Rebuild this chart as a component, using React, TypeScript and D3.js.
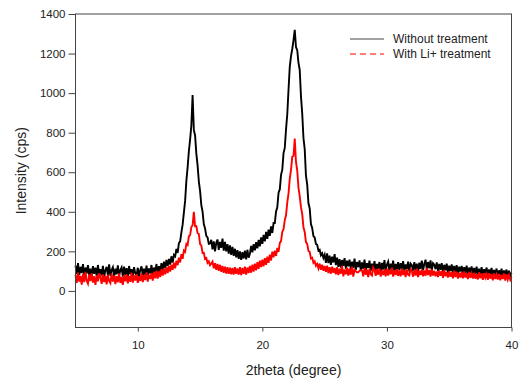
import * as d3 from "d3";
import { useEffect, useRef } from "react";

// 2theta from 5 to 40 in 0.1 degree steps
const startAngle = 5;
const stepAngle = 0.1;

const withoutTreatment = [
  128, 85, 140, 80, 122, 90, 135, 78, 118, 88,
  130, 80, 112, 72, 125, 86, 118, 75, 131, 84,
  110, 78, 127, 72, 104, 122, 80, 134, 76, 106,
  120, 70, 112, 84, 129, 76, 105, 118, 72, 123,
  80, 115, 72, 126, 84, 110, 76, 120, 88, 78,
  117, 72, 106, 124, 78, 112, 82, 128, 80, 114,
  88, 131, 82, 118, 92, 136, 86, 125, 97, 140,
  105, 148, 114, 157, 126, 162, 133, 175, 143, 182,
  175, 212, 192, 242, 250, 296, 335, 396, 455, 556,
  625, 706, 765, 836, 990, 814, 786, 694, 636, 554,
  506, 434, 401, 338, 316, 278, 270, 238, 240, 258,
  210, 250, 200, 243, 260, 207, 248, 218, 264, 204,
  248, 200, 236, 188, 230, 182, 223, 177, 213, 170,
  206, 162, 200, 157, 196, 164, 203, 160, 208, 168,
  188, 228, 195, 236, 205, 246, 215, 258, 225, 270,
  238, 283, 251, 298, 263, 310, 278, 326, 293, 343,
  343, 402, 423, 497, 513, 587, 613, 697, 723, 817,
  893, 1017, 1133, 1187, 1223, 1267, 1320, 1233, 1217, 1153,
  1117, 983, 897, 773, 717, 583, 537, 443, 417, 338,
  318, 277, 270, 237, 233, 204, 208, 180, 190, 167,
  183, 142, 190, 140, 178, 132, 173, 144, 186, 130,
  168, 122, 160, 118, 156, 127, 166, 112, 153, 124,
  158, 110, 148, 117, 163, 107, 146, 120, 154, 104,
  144, 112, 158, 102, 140, 116, 153, 100, 138, 110,
  150, 104, 136, 112, 146, 98, 142, 108, 156, 102,
  133, 148, 100, 138, 110, 153, 96, 136, 107, 146,
  104, 140, 112, 150, 100, 134, 110, 148, 97, 138,
  130, 102, 146, 107, 138, 94, 143, 112, 153, 104,
  136, 158, 107, 146, 114, 154, 102, 140, 133, 110,
  144, 100, 136, 107, 140, 92, 132, 104, 138, 90,
  128, 100, 134, 87, 126, 96, 130, 84, 122, 98,
  126, 88, 120, 92, 128, 82, 118, 90, 124, 80,
  116, 87, 123, 78, 112, 84, 120, 76, 110, 88,
  118, 77, 108, 84, 116, 72, 106, 82, 113, 74,
  104, 78, 112, 70, 103, 80, 108, 68, 102, 76,
  92,
];

const withLiTreatment = [
  80, 40, 93, 47, 76, 32, 86, 44, 96, 52,
  37, 82, 50, 90, 42, 74, 30, 79, 48, 88,
  70, 36, 84, 45, 77, 33, 81, 50, 39, 87,
  47, 78, 34, 74, 44, 89, 40, 71, 31, 80,
  49, 83, 38, 76, 46, 92, 42, 78, 52, 85,
  41, 74, 50, 88, 44, 79, 55, 94, 47, 82,
  60, 90, 52, 96, 64, 103, 62, 98, 70, 110,
  77, 112, 84, 120, 90, 126, 98, 132, 107, 143,
  114, 153, 130, 168, 144, 186, 162, 204, 197, 238,
  232, 276, 282, 323, 332, 400, 327, 328, 292, 288,
  237, 230, 192, 193, 162, 166, 142, 150, 130, 138,
  148, 114, 140, 107, 136, 102, 132, 97, 126, 92,
  123, 88, 120, 86, 118, 84, 116, 82, 120, 87,
  113, 82, 120, 80, 116, 86, 123, 82, 118, 90,
  126, 92, 133, 98, 138, 104, 146, 112, 153, 120,
  158, 124, 166, 132, 173, 142, 183, 154, 198, 170,
  203, 177, 218, 197, 243, 252, 298, 312, 358, 382,
  448, 492, 568, 612, 678, 682, 770, 652, 608, 522,
  478, 422, 388, 322, 298, 247, 238, 202, 198, 164,
  168, 142, 150, 127, 136, 114, 138, 107, 132, 102,
  126, 96, 128, 90, 120, 87, 123, 92, 116, 84,
  120, 80, 112, 87, 126, 74, 108, 84, 118, 77,
  113, 82, 123, 72, 106, 100, 94, 94, 102, 104,
  104, 74, 116, 82, 108, 70, 112, 84, 78, 118,
  106, 76, 110, 82, 114, 72, 104, 80, 108, 74,
  112, 78, 106, 84, 118, 72, 104, 80, 110, 76,
  103, 74, 112, 80, 106, 70, 108, 82, 78, 110,
  100, 72, 106, 78, 112, 70, 102, 80, 108, 74,
  104, 76, 116, 80, 106, 72, 110, 78, 102, 74,
  98, 70, 104, 76, 100, 66, 106, 74, 96, 68,
  100, 72, 94, 64, 102, 70, 96, 62, 92, 68,
  94, 64, 98, 68, 90, 60, 96, 66, 88, 62,
  92, 62, 86, 58, 94, 64, 88, 56, 90, 66,
  84, 56, 90, 62, 86, 54, 88, 60, 82, 58,
  86, 54, 82, 60, 88, 52, 84, 58, 80, 56,
  70,
];

const xTicks = [10, 20, 30, 40];
const yTicks = [0, 200, 400, 600, 800, 1000, 1200, 1400];
const seriesNames = ["Without treatment", "With Li+ treatment"];

const width = 520;
const height = 381;
const margin = { top: 14, right: 8.5, bottom: 53.5, left: 75.5 };
const font = "Arial, 'Liberation Sans', sans-serif";

function App() {
  const svgRef = useRef(null);

  useEffect(() => {
    const svg = d3.select(svgRef.current);
    svg.selectAll("*").remove();

    const x = d3
      .scaleLinear()
      .domain([5, 40])
      .range([margin.left, width - margin.right]);
    const y = d3
      .scaleLinear()
      .domain([-185, 1400])
      .range([height - margin.bottom, margin.top]);

    const lineGen = d3
      .line<number>()
      .x((_, i) => x(startAngle + i * stepAngle))
      .y((d) => y(d));

    const plot = svg.append("g");
    plot
      .append("path")
      .attr("d", lineGen(withoutTreatment))
      .attr("fill", "none")
      .attr("stroke", "#000")
      .attr("stroke-width", 1.9);
    plot
      .append("path")
      .attr("d", lineGen(withLiTreatment))
      .attr("fill", "none")
      .attr("stroke", "#ff0000")
      .attr("stroke-width", 1.9);

    // frame
    svg
      .append("rect")
      .attr("x", margin.left)
      .attr("y", margin.top)
      .attr("width", width - margin.right - margin.left)
      .attr("height", height - margin.bottom - margin.top)
      .attr("fill", "none")
      .attr("stroke", "#444")
      .attr("stroke-width", 1);

    const xAxis = svg
      .append("g")
      .attr("transform", `translate(0,${height - margin.bottom})`)
      .call(
        d3.axisBottom(x).tickValues(xTicks).tickSize(4).tickPadding(9).tickFormat(d3.format("d"))
      );
    const yAxis = svg
      .append("g")
      .attr("transform", `translate(${margin.left},0)`)
      .call(
        d3.axisLeft(y).tickValues(yTicks).tickSize(7).tickPadding(3).tickFormat(d3.format("d"))
      );

    [xAxis, yAxis].forEach((g) => {
      g.select(".domain").remove();
      g.selectAll("line").attr("stroke", "#444");
      g.selectAll("text")
        .attr("fill", "#222")
        .style("font-family", font)
        .style("font-size", "11.5px");
    });

    svg
      .append("text")
      .attr("x", (margin.left + width - margin.right) / 2)
      .attr("y", 375)
      .attr("text-anchor", "middle")
      .attr("fill", "#222")
      .style("font-family", font)
      .style("font-size", "14px")
      .text("2theta (degree)");

    svg
      .append("text")
      .attr("transform", `translate(26,${(margin.top + height - margin.bottom) / 2}) rotate(-90)`)
      .attr("text-anchor", "middle")
      .attr("fill", "#222")
      .style("font-family", font)
      .style("font-size", "14px")
      .text("Intensity (cps)");

    const legend = svg.append("g");
    const colors = ["#000", "#ff0000"];
    seriesNames.forEach((name, i) => {
      const ly = 39 + i * 15;
      legend
        .append("line")
        .attr("x1", 350)
        .attr("x2", 384)
        .attr("y1", ly)
        .attr("y2", ly)
        .attr("stroke", i === 0 ? "#444" : colors[i])
        .attr("stroke-width", 1)
        .attr("stroke-dasharray", i === 0 ? null : "6,4");
      legend
        .append("text")
        .attr("x", 393)
        .attr("y", ly + 4)
        .attr("fill", "#222")
        .style("font-family", font)
        .style("font-size", "12px")
        .text(name);
    });
  }, []);

  return (
    <svg
      ref={svgRef}
      width={width}
      height={height}
      style={{ position: "absolute", left: 0, top: 0, background: "#fff" }}
    />
  );
}

export default App;
